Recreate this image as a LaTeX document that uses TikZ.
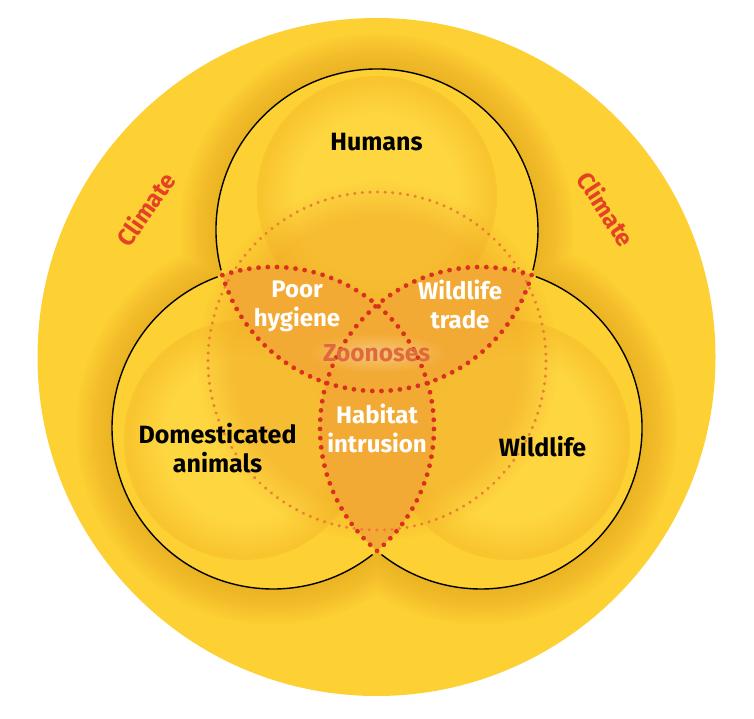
\documentclass[tikz,border=0pt]{standalone}
\usepackage{fontspec}
\setmainfont{Fira Sans}
\usetikzlibrary{fadings,decorations.markings}
\definecolor{ybright}{RGB}{253,208,52}
\definecolor{ylight}{RGB}{254,214,64}
\definecolor{ygold}{RGB}{249,197,47}
\definecolor{ycentre}{RGB}{240,165,38}
\definecolor{halo}{RGB}{226,138,20}
\definecolor{lens}{RGB}{243,170,52}
\definecolor{dotred}{RGB}{216,50,30}
\definecolor{dotfaint}{RGB}{236,126,52}
\definecolor{climate}{RGB}{228,66,36}
\definecolor{zoono}{RGB}{224,106,64}
\pgfdeclareradialshading{lobeshade}{\pgfpoint{0bp}{0bp}}{color(0bp)=(ylight); color(17bp)=(ylight); color(24bp)=(ygold); color(25bp)=(ygold); color(50bp)=(ygold)}
\tikzfading[name=glowfade, inner color=transparent!40, outer color=transparent!100]
\tikzset{
  blackarc/.style={draw=black, line width=1.4pt},
  reddots/.style={postaction={decorate}, decoration={markings,
      mark=between positions 0 and 1 step #1 with {\fill[dotred] (0,0) circle (2.4pt);}}},
  faintdots/.style={postaction={decorate}, decoration={markings,
      mark=between positions 0 and 1 step 7.585pt with {\fill[dotfaint] (0,0) circle (1.7pt);}}},
  lab/.style={font=\fontsize{25}{28.5}\selectfont\bfseries, text=black, align=center, inner sep=0pt},
  wlab/.style={font=\fontsize{24}{29}\selectfont\bfseries, text=white, align=center, inner sep=0pt},
  zlab/.style={font=\fontsize{24.5}{29}\selectfont\bfseries, text=zoono, inner sep=0pt},
  climlab/.style={font=\fontsize{24}{28}\selectfont\bfseries, text=climate, inner sep=0pt},
}
\begin{document}
\begin{tikzpicture}[x=1pt,y=-1pt]
\useasboundingbox (0,0) rectangle (754,719);
\fill[white] (0,0) rectangle (754,719);
\coordinate (C) at (376.5,357);
\coordinate (H) at (377,230);
\coordinate (D) at (273,428);
\coordinate (W) at (481,428);
\coordinate (M) at (377,361);
\coordinate (Hc) at (377,196);
\coordinate (Dc) at (244,440);
\coordinate (Wc) at (510,440);
% climate disc
\fill[ybright] (C) circle (339);
% halo around the three circles
\begin{scope}
\clip (C) circle (339);
\foreach \k in {36,34,...,2}{
  \fill[halo, fill opacity=0.02] (H) circle (161+\k) (D) circle (161+\k) (W) circle (161+\k);
}
\end{scope}
% union of the three circles
\fill[ybright] (H) circle (161) (D) circle (161) (W) circle (161);
% inner lobe discs
\shade[shading=lobeshade] (Hc) circle (120);
\shade[shading=lobeshade] (Dc) circle (120);
\shade[shading=lobeshade] (Wc) circle (120);
% central darker zone
\fill[ycentre, fill opacity=0.5, path fading=circle with fuzzy edge 20 percent] (M) circle (180);
% pairwise and triple intersections
\begin{scope}
\clip (H) circle (161);
\fill[lens] (D) circle (161) (W) circle (161);
\end{scope}
\begin{scope}
\clip (D) circle (161);
\fill[lens] (W) circle (161);
\end{scope}
% glow behind Zoonoses
\fill[white, fill opacity=0.55, path fading=glowfade] (377,353) ellipse (70 and 20);
% faint dotted circle
\path[faintdots] (M) circle (169);
% inner dotted arcs
\path[reddots=9.21pt] (H) ++(16.25:161) arc[start angle=16.25, end angle=163.75, radius=161];
\path[reddots=9.256pt] (D) ++(251.66:161) arc[start angle=251.66, end angle=409.76, radius=161];
\path[reddots=9.256pt] (W) ++(130.24:161) arc[start angle=130.24, end angle=288.34, radius=161];
% outer black arcs
\draw[blackarc] (H) ++(165.5:161) arc[start angle=165.5, end angle=374.5, radius=161];
\draw[blackarc] (D) ++(51.8:161) arc[start angle=51.8, end angle=249.9, radius=161];
\draw[blackarc] (W) ++(-70.1:161) arc[start angle=-70.1, end angle=128.2, radius=161];
% labels
\node[lab] (hum) at (376.5,142.5) {Humans};
\node[lab] (dom) at (217.5,448) {Domesticated\\animals};
\node[lab] (wil) at (542.5,447) {Wildlife};
\node[wlab] (poor) at (297,306.5) {Poor\\hygiene};
\node[wlab] (trade) at (460,304) {Wildlife\\trade};
\node[wlab] (habitat) at (377,428) {Habitat\\intrusion};
\node[zlab] (zoo) at (376.7,353) {Zoonoses};
\node[climlab, rotate=55] (climl) at (145.5,209) {Climate};
\node[climlab, rotate=-57] (climr) at (606.5,209) {Climate};
\end{tikzpicture}
\end{document}
